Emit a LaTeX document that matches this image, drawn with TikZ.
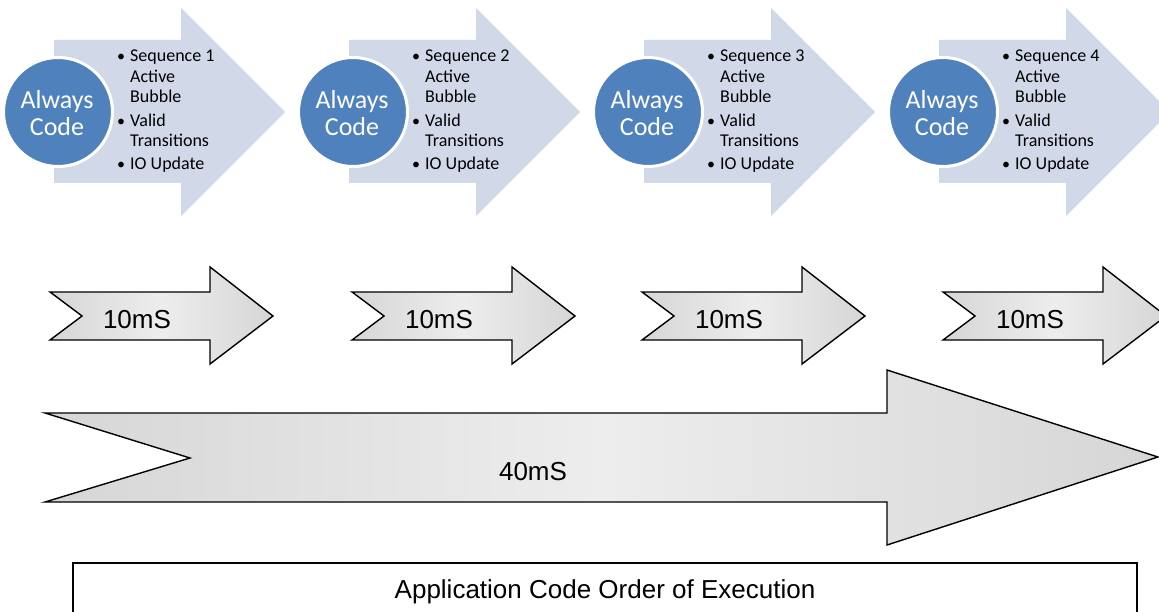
\documentclass[tikz,border=0pt]{standalone}
\usepackage{fontspec}
\newfontfamily\calfont{Carlito}
\newfontfamily\arifont{Liberation Sans}
\definecolor{circblue}{HTML}{4F81BD}
\definecolor{arrblue}{HTML}{D1D9E9}
\definecolor{grayedge}{HTML}{D6D6D6}
\definecolor{graymid}{HTML}{EDEDED}
\tikzset{
  bluearrow/.style={fill=arrblue, draw=none},
  bubble/.style={circle, fill=circblue, draw=white, line width=3pt, minimum size=109pt, inner sep=0pt},
  bubbletext/.style={text=white, align=center, font=\calfont\fontsize{26}{27}\selectfont},
  bullettext/.style={anchor=base west, inner sep=0pt, font=\calfont\fontsize{18}{20}\selectfont},
  bulletdot/.style={anchor=base, inner sep=0pt, font=\calfont\fontsize{16}{20}\selectfont},
  grayarrow/.style={draw=black, line width=1.4pt, line join=miter, left color=grayedge, right color=grayedge, middle color=graymid},
  msltext/.style={anchor=base, inner sep=0pt, font=\arifont\fontsize{26}{30}\selectfont},
  outbox/.style={draw=black, line width=2pt, fill=white}
}
\begin{document}
\begin{tikzpicture}[x=1pt,y=-1pt]
\useasboundingbox (0,0) rectangle (1159,612);
\clip (0,0) rectangle (1159,612);
\fill[white] (0,0) rectangle (1159,612);
% top groups
\foreach \k in {1,2,3,4}{
  \pgfmathsetmacro{\dx}{295*(\k-1)}
  \begin{scope}[xshift=\dx pt]
    \path[bluearrow] (54,40) -- (181,40) -- (181,8) -- (285,112) -- (181,216) -- (181,183) -- (54,183) -- cycle;
    \node[bubble] (bub\k) at (58,112) {};
    \node[bubbletext] (alw\k) at (57,113) {Always\\Code};
    \node[bulletdot] (b1\k) at (121,62) {•};
    \node[bullettext] (s1\k) at (130,62) {Sequence \k};
    \node[bullettext] (s2\k) at (130,82.5) {Active};
    \node[bullettext] (s3\k) at (130,103) {Bubble};
    \node[bulletdot] (b2\k) at (121,126.5) {•};
    \node[bullettext] (s4\k) at (130,126.5) {Valid};
    \node[bullettext] (s5\k) at (130,147) {Transitions};
    \node[bulletdot] (b3\k) at (121,170) {•};
    \node[bullettext] (s6\k) at (130,170) {IO Update};
  \end{scope}
}
% 10mS arrows
\foreach \a [count=\i] in {50,352,642,943}{
  \path[grayarrow] (\a,292) -- ({\a+160},292) -- ({\a+160},267) -- ({\a+223},316) -- ({\a+160},364) -- ({\a+160},340) -- (\a,340) -- ({\a+32},316) -- cycle;
  \node[msltext] (ten\i) at ({\a+87},328) {10mS};
}
% 40mS arrow
\path[grayarrow] (45,413) -- (887,413) -- (887,370) -- (1158,457) -- (887,545) -- (887,502) -- (45,502) -- (190,458) -- cycle;
\node[msltext] (forty) at (533,480) {40mS};
% bottom box
\path[outbox] (73,563) rectangle (1137,625);
\node[msltext] (app) at (605,598) {Application Code Order of Execution};
\end{tikzpicture}
\end{document}
